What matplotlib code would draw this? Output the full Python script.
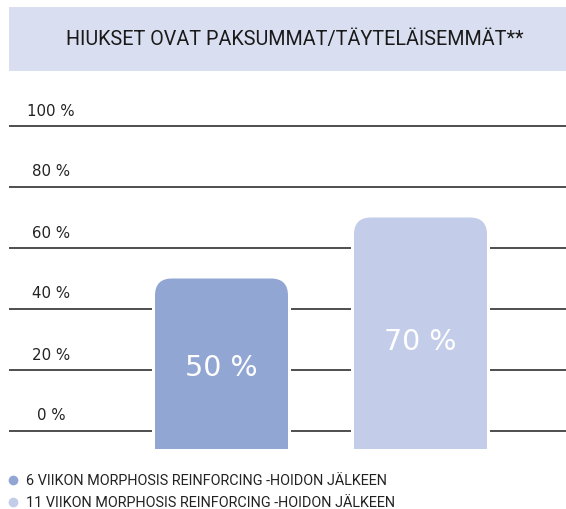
import matplotlib
matplotlib.use("Agg")
import matplotlib.pyplot as plt
from matplotlib.patches import Rectangle, FancyBboxPatch
from matplotlib.lines import Line2D

# ---- data ----
title = "HIUKSET OVAT PAKSUMMAT/TÄYTELÄISEMMÄT**"
series_labels = ["6 VIIKON MORPHOSIS REINFORCING -HOIDON JÄLKEEN",
                 "11 VIIKON MORPHOSIS REINFORCING -HOIDON JÄLKEEN"]
values = [50, 70]
value_labels = ["50 %", "70 %"]
yticks = [0, 20, 40, 60, 80, 100]
ytick_labels = ["0 %", "20 %", "40 %", "60 %", "80 %", "100 %"]

# ---- style ----
colors = ["#92a6d4", "#c3cdea"]
banner_color = "#d9dff0"
line_color = "#1e1e1e"
W, H, DPI = 566, 510, 100
PX_X = 199.0          # pixels per category unit
PX_Y = 3.05           # pixels per percent
X0_PX = 221.5         # pixel x of first bar centre
Y0_PX = 432           # pixel y (from top) of 0 %
BAR_W_PX = 133
BAR_BASE = -6.0
RADIUS_PX = 17
GAP_PX = 3

fig = plt.figure(figsize=(W / DPI, H / DPI), dpi=DPI)
fig.patch.set_facecolor("white")
ax = fig.add_axes([0, 0, 1, 1])
ax.set_axis_off()
ax.set_xlim(-X0_PX / PX_X, (W - X0_PX) / PX_X)
ax.set_ylim(-(H - Y0_PX) / PX_Y, Y0_PX / PX_Y)

x_left = (9 - X0_PX) / PX_X
x_right = (W - X0_PX) / PX_X
ax.hlines(yticks, x_left, x_right, color=line_color, lw=1.1, zorder=1)

tick_font = "DejaVu Sans"
for v, lab in zip(yticks, ytick_labels):
    ax.text((51 - X0_PX) / PX_X, v + 16 / PX_Y, lab, ha="center", va="center",
            fontsize=10.8, family=tick_font, color="#222222", zorder=3)

bw = BAR_W_PX / PX_X
rx = RADIUS_PX / PX_X
ry = RADIUS_PX / PX_Y
gap = GAP_PX / PX_X
for i, (v, c, lab) in enumerate(zip(values, colors, value_labels)):
    # white gap around bar
    ax.add_patch(Rectangle((i - bw / 2 - gap, BAR_BASE), bw + 2 * gap, v - BAR_BASE,
                           facecolor="white", edgecolor="none", zorder=2))
    # lower straight part
    ax.bar(i, v - BAR_BASE - ry, bottom=BAR_BASE, width=bw, color=c, zorder=3,
           linewidth=0)
    # rounded top
    ax.add_patch(FancyBboxPatch((i - bw / 2, v - 3 * ry), bw, 3 * ry,
                                boxstyle=f"round,pad=0,rounding_size={rx}",
                                mutation_aspect=PX_X / PX_Y,
                                facecolor=c, edgecolor="none", zorder=3))
    ax.text(i, v * 0.42, lab, ha="center", va="center", color="white",
            fontsize=20.5, family=tick_font, zorder=4)

# title banner
fig.add_artist(Rectangle((9 / W, 1 - 72 / H), 1 - 9 / W, 64 / H,
                         transform=fig.transFigure, facecolor=banner_color,
                         edgecolor="none", zorder=0))
fig.text(295 / W, 1 - 40 / H, title, ha="center", va="center",
         family="Roboto", fontsize=14.2, color="#1a1a1a")

# legend
for k, (lab, c) in enumerate(zip(series_labels, colors)):
    yy = 1 - (481 + 22 * k) / H
    fig.add_artist(Line2D([13 / W], [yy], marker="o", markersize=7,
                          markerfacecolor=c, markeredgecolor="none",
                          transform=fig.transFigure))
    fig.text(26 / W, yy, lab, ha="left", va="center", family="Roboto",
             fontsize=10.4, color="#222222")

fig.savefig("out.png", dpi=DPI)
